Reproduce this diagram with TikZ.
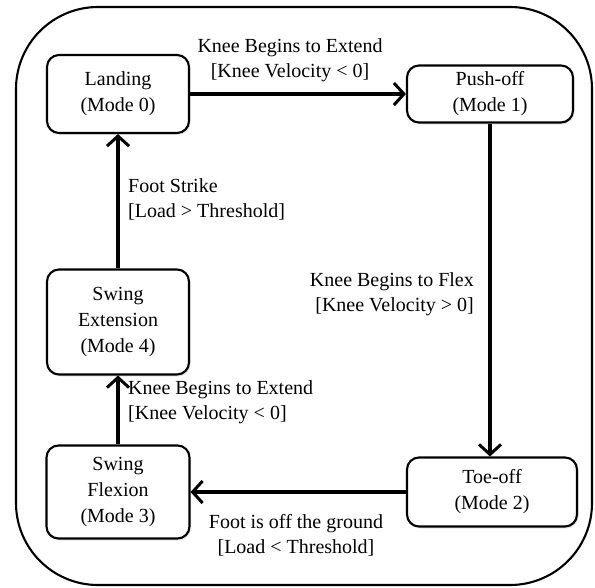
\documentclass[tikz,border=0pt]{standalone}
\usepackage{fontspec}
\setmainfont{Liberation Serif}
\usetikzlibrary{arrows.meta,shadows}
\begin{document}
\begin{tikzpicture}[x=1pt,y=-1pt,
  modebox/.style={draw=black, line width=2.1pt, rounded corners=12pt, fill=white,
    align=center, inner sep=0pt, font=\fontsize{20}{26}\selectfont,
    drop shadow={opacity=0.18, shadow xshift=1.5pt, shadow yshift=-2pt}},
  lbl/.style={inner sep=0pt, font=\fontsize{20}{25}\selectfont},
  trans/.style={line width=3.2pt, -{Straight Barb[length=10pt,width=22pt,line width=3pt]}}
]
\useasboundingbox (0,0) rectangle (595,587);
\draw[line width=2.1pt, rounded corners=82pt] (16,7) rectangle (592,585);

\node[modebox, minimum width=142pt, minimum height=78pt] (landing) at (118,94) {Landing\\(Mode 0)};
\node[modebox, minimum width=166pt, minimum height=57pt] (pushoff) at (490,94) {Push-off\\(Mode 1)};
\node[modebox, minimum width=170pt, minimum height=69pt] (toeoff) at (492,492) {Toe-off\\(Mode 2)};
\node[modebox, minimum width=143pt, minimum height=93pt] (flexion) at (118,492) {Swing\\Flexion\\(Mode 3)};
\node[modebox, minimum width=142pt, minimum height=105pt] (extension) at (118,322) {Swing\\Extension\\(Mode 4)};

\draw[trans] (landing.east) -- (landing.east -| pushoff.west);
\draw[trans] (pushoff.south) -- (pushoff.south |- toeoff.north);
\draw[trans] (toeoff.west) -- (toeoff.west -| flexion.east);
\draw[trans] (flexion.north) -- (extension.south);
\draw[trans] (extension.north) -- (landing.south);

\node[lbl, align=center] (l1) at (290,60) {Knee Begins to Extend\\{}[Knee Velocity < 0]};
\node[lbl, align=right, anchor=east] (l2) at (474,294) {Knee Begins to Flex\\{}[Knee Velocity > 0]};
\node[lbl, align=center] (l3) at (296,535) {Foot is off the ground\\{}[Load < Threshold]};
\node[lbl, align=left, anchor=west] (l4) at (128,402) {Knee Begins to Extend\\{}[Knee Velocity < 0]};
\node[lbl, align=left, anchor=west] (l5) at (128,199) {Foot Strike\\{}[Load > Threshold]};
\end{tikzpicture}
\end{document}
